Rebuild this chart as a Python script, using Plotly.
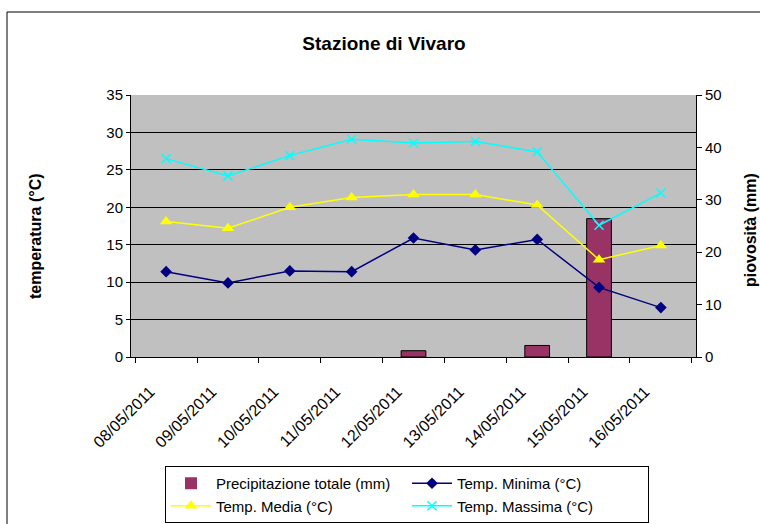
import plotly.graph_objects as go

dates = ["08/05/2011", "09/05/2011", "10/05/2011", "11/05/2011", "12/05/2011",
         "13/05/2011", "14/05/2011", "15/05/2011", "16/05/2011"]
precip = [0, 0, 0, 0, 1.2, 0, 2.2, 26.4, 0]
t_min = [11.4, 9.9, 11.5, 11.4, 15.9, 14.3, 15.7, 9.3, 6.6]
t_med = [18.1, 17.2, 20.0, 21.3, 21.7, 21.7, 20.3, 13.0, 14.9]
t_max = [26.5, 24.2, 26.9, 29.1, 28.6, 28.8, 27.4, 17.6, 21.9]

FONT = "Liberation Sans, Arial, sans-serif"

fig = go.Figure()
fig.add_trace(go.Bar(
    x=dates, y=precip, name="Precipitazione totale (mm)", width=0.4,
    marker=dict(color="#993366",
                line=dict(color="#000000", width=[1 if v > 0 else 0 for v in precip])),
    yaxis="y"))
fig.add_trace(go.Scatter(
    x=dates, y=t_min, name="Temp. Minima (°C)", mode="lines+markers",
    line=dict(color="#000080", width=1.5),
    marker=dict(symbol="diamond", size=9, color="#000080"), yaxis="y2"))
fig.add_trace(go.Scatter(
    x=dates, y=t_med, name="Temp. Media (°C)", mode="lines+markers",
    line=dict(color="#FFFF00", width=1.5),
    marker=dict(symbol="triangle-up", size=11, color="#FFFF00"), yaxis="y2"))
fig.add_trace(go.Scatter(
    x=dates, y=t_max, name="Temp. Massima (°C)", mode="lines+markers",
    line=dict(color="#00FFFF", width=1.5),
    marker=dict(symbol="x-thin-open", size=9, color="#00FFFF",
                line=dict(color="#00FFFF", width=1.5)), yaxis="y2"))

L, R, T, B = 131, 64, 95, 167
W, H = 760, 524
pw, ph = W - L - R, H - T - B

def px(xp):
    return (xp - L) / pw

def py(yp):
    return (H - B - yp) / ph

fig.update_layout(
    width=W, height=H,
    margin=dict(l=L, r=R, t=T, b=B, autoexpand=False),
    paper_bgcolor="white", plot_bgcolor="#C0C0C0",
    font=dict(family=FONT, size=15, color="black"),
    title=dict(text="<b>Stazione di Vivaro</b>", x=384 / W, xanchor="center",
               y=1 - 43 / H, yanchor="middle",
               font=dict(family=FONT, size=19, color="black")),
    showlegend=True,
    legend=dict(orientation="h", x=px(165), xanchor="left", y=py(466), yanchor="top",
                bgcolor="white", bordercolor="black", borderwidth=1,
                entrywidth=186, entrywidthmode="pixels", itemwidth=40,
                font=dict(family=FONT, size=15, color="black"),
                traceorder="normal"),
    xaxis=dict(type="category", showgrid=False, showline=True, linecolor="black",
               linewidth=1, ticks="outside", tickson="boundaries", ticklen=5,
               tickcolor="black", tickangle=-45, tickfont=dict(size=16),
               ticklabelstandoff=18, ticklabelshift=-16,
               mirror=False, zeroline=False),
    yaxis=dict(side="right", range=[0, 50], dtick=10, showgrid=False,
               showline=True, linecolor="black", linewidth=1, ticks="outside",
               ticklen=5, tickcolor="black", zeroline=False,
               tickfont=dict(size=15)),
    yaxis2=dict(overlaying="y", side="left", range=[0, 35], dtick=5,
                showgrid=True, gridcolor="black", gridwidth=1,
                showline=True, linecolor="black", linewidth=1, ticks="outside",
                ticklen=4, tickcolor="black", zeroline=False,
                tickfont=dict(size=15)),
    annotations=[
        dict(text="<b>temperatura (°C)</b>", xref="paper", yref="paper",
             x=px(35), y=py(236), textangle=-90, showarrow=False,
             xanchor="center", yanchor="middle",
             font=dict(family=FONT, size=16, color="black")),
        dict(text="<b>piovosità (mm)</b>", xref="paper", yref="paper",
             x=px(750), y=py(230), textangle=-90, showarrow=False,
             xanchor="center", yanchor="middle",
             font=dict(family=FONT, size=16, color="black")),
    ],
    shapes=[
        dict(type="rect", xref="paper", yref="paper",
             x0=px(7), x1=px(775), y0=py(540), y1=py(12),
             line=dict(color="black", width=1), fillcolor="rgba(0,0,0,0)",
             layer="below"),
    ],
)

fig.write_html("out.html", config={"displayModeBar": False},
               post_script="document.body.style.margin='0';document.body.style.overflow='hidden';")
